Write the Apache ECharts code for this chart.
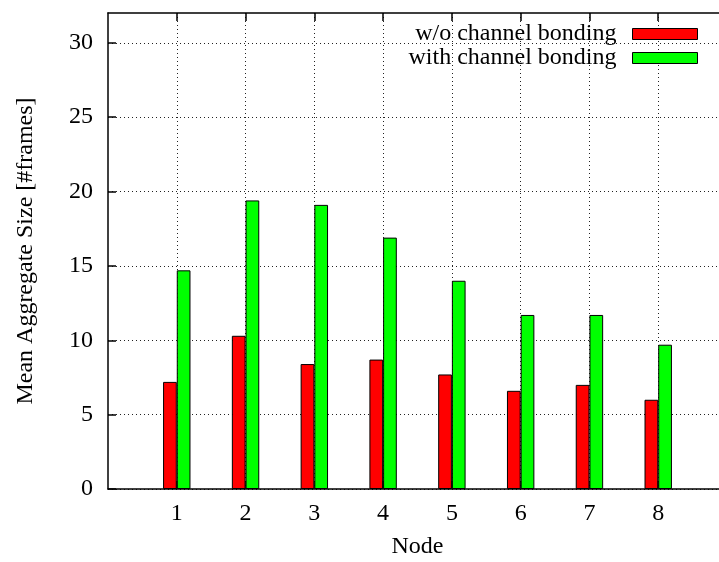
<!DOCTYPE html>
<html>
<head>
<meta charset="utf-8">
<script src="https://cdn.jsdelivr.net/npm/echarts@6/dist/echarts.min.js"></script>
<style>
  html, body { margin: 0; padding: 0; background: #fff; }
  #chart { width: 719px; height: 562px; }
</style>
</head>
<body>
<div id="chart"></div>
<script>
// Node indices on the x axis
const nodes = [1, 2, 3, 4, 5, 6, 7, 8];
// Mean aggregate size per node, in frames
const withoutBonding = [7.2, 10.3, 8.4, 8.7, 7.7, 6.6, 7.0, 6.0];
const withBonding = [14.7, 19.4, 19.1, 16.9, 14.0, 11.7, 11.7, 9.7];
// Tick positions
const yTicks = [0, 5, 10, 15, 20, 25, 30];
const seriesNames = ['w/o channel bonding', 'with channel bonding'];

const FONT = 'Liberation Serif';
const FS = 24;

const toPairs = vals => nodes.map((n, i) => [n, vals[i]]);

const chart = echarts.init(document.getElementById('chart'), null, { renderer: 'canvas' });

const legendBase = {
  orient: 'vertical',
  align: 'right',
  right: 21,
  padding: 0,
  itemWidth: 65,
  itemHeight: 11,
  icon: 'rect',
  textStyle: { fontFamily: FONT, fontSize: FS, color: '#000', padding: [0, 11, 0, 0] },
  itemStyle: { borderColor: '#000', borderWidth: 1 }
};

chart.setOption({
  animation: false,
  backgroundColor: '#fff',
  grid: { left: 108, top: 13, right: -8, bottom: 73, outerBoundsMode: 'none' },
  legend: [
    Object.assign({}, legendBase, { top: 22, data: [seriesNames[0]] }),
    Object.assign({}, legendBase, { top: 46, data: [seriesNames[1]] })
  ],
  xAxis: [
    {
      type: 'value',
      position: 'bottom',
      min: 0, max: 9, interval: 1,
      name: 'Node',
      nameLocation: 'middle',
      nameGap: 46,
      nameTextStyle: { fontFamily: FONT, fontSize: FS, color: '#000' },
      axisLine: { show: true, onZero: false, lineStyle: { color: '#000', width: 1.5 } },
      axisTick: { show: true, inside: true, length: 8, customValues: nodes, lineStyle: { color: '#000', width: 1.5 } },
      axisLabel: { customValues: nodes, margin: 13, fontFamily: FONT, fontSize: FS, color: '#000' },
      splitLine: { show: true, lineStyle: { color: '#222', width: 1, type: [1, 3] } }
    },
    {
      type: 'value',
      position: 'top',
      min: 0, max: 9, interval: 1,
      axisLine: { show: true, onZero: false, lineStyle: { color: '#000', width: 1.5 } },
      axisTick: { show: true, inside: true, length: 8, customValues: nodes, lineStyle: { color: '#000', width: 1.5 } },
      axisLabel: { show: false },
      splitLine: { show: false }
    }
  ],
  yAxis: {
    type: 'value',
    min: 0, max: 32, interval: 5,
    name: 'Mean Aggregate Size [#frames]',
    nameLocation: 'middle',
    nameGap: 70,
    nameTextStyle: { fontFamily: FONT, fontSize: FS, color: '#000' },
    axisLine: { show: true, onZero: false, lineStyle: { color: '#000', width: 1.5 } },
    axisTick: { show: true, inside: true, length: 8, customValues: yTicks, lineStyle: { color: '#000', width: 1.5 } },
    axisLabel: { customValues: yTicks, margin: 15, fontFamily: FONT, fontSize: FS, color: '#000' },
    splitLine: { show: true, lineStyle: { color: '#222', width: 1, type: [1, 3] } }
  },
  series: [
    {
      name: seriesNames[0],
      type: 'bar',
      xAxisIndex: 0,
      barWidth: 13.7,
      barGap: '0%',
      itemStyle: { color: '#ff0000', borderColor: '#000', borderWidth: 1 },
      data: toPairs(withoutBonding)
    },
    {
      name: seriesNames[1],
      type: 'bar',
      xAxisIndex: 0,
      barWidth: 13.7,
      barGap: '0%',
      itemStyle: { color: '#00ff00', borderColor: '#000', borderWidth: 1 },
      data: toPairs(withBonding)
    }
  ]
});
</script>
</body>
</html>
